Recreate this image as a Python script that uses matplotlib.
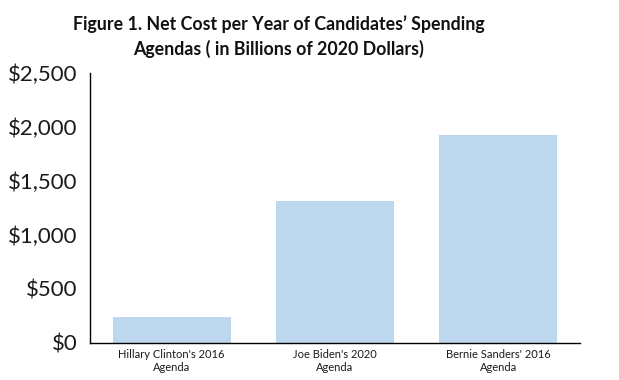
import numpy as np
import matplotlib.pyplot as plt

# data
agendas = ["Hillary Clinton's 2016\nAgenda", "Joe Biden's 2020\nAgenda", "Bernie Sanders' 2016\nAgenda"]
net_cost = [240, 1315, 1925]
y_ticks = [0, 500, 1000, 1500, 2000, 2500]
y_labels = ['$0', '$500', '$1,000', '$1,500', '$2,000', '$2,500']

fig = plt.figure(figsize=(6.19, 3.8), dpi=100)
ax = fig.add_axes([0.1454, 0.0974, 0.7916, 0.7106])

x = np.arange(len(agendas))
ax.bar(x, net_cost, 0.724, color='#bdd7ee')

ax.set_xlim(-0.5, 2.5)
ax.set_ylim(0, 2500)
ax.set_yticks(y_ticks)
ax.set_yticklabels(y_labels, fontsize=16, family='Lato', color='#1a1a1a')
ax.set_xticks(x)
ax.set_xticklabels(agendas, fontsize=8, family='Lato', color='#1a1a1a', linespacing=1.3)
ax.tick_params(axis='both', length=0)
ax.tick_params(axis='y', pad=9)
ax.tick_params(axis='x', pad=4)

for side in ['top', 'right']:
    ax.spines[side].set_visible(False)
for side in ['left', 'bottom']:
    ax.spines[side].set_linewidth(1)
    ax.spines[side].set_color('black')

fig.text(0.45, 0.96, "Figure 1. Net Cost per Year of Candidates\u2019 Spending\nAgendas ( in Billions of 2020 Dollars)",
         ha='center', va='top', fontsize=12.8, fontweight='bold', family='Lato',
         color='#111111', linespacing=1.45)

fig.savefig('out.png', dpi=100)
